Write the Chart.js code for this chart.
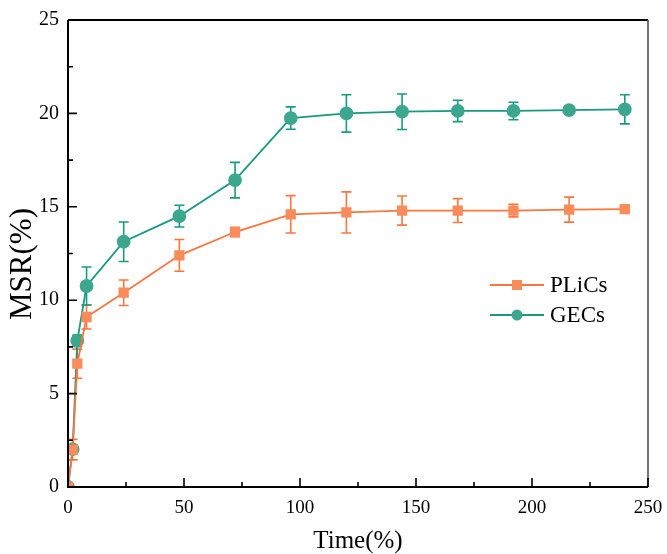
<!DOCTYPE html>
<html>
<head>
<meta charset="utf-8">
<script src="https://cdn.jsdelivr.net/npm/chart.js@4.4.1/dist/chart.umd.min.js"></script>
<style>
  html, body { margin: 0; padding: 0; background: #fff; }
  #wrap { width: 667px; height: 554px; }
</style>
</head>
<body>
<div id="wrap"><canvas id="doThi" width="667" height="554"></canvas></div>
<script>
// du lieu doc tu hinh
var thoiGian = [0, 2, 4, 8, 24, 48, 72, 96, 120, 144, 168, 192, 216, 240];
var plics = [0, 2.0, 6.6, 9.1, 10.4, 12.4, 13.65, 14.6, 14.7, 14.8, 14.8, 14.8, 14.85, 14.88];
var plicsErr = [0, 0.55, 0.78, 0.64, 0.68, 0.85, 0.25, 1.0, 1.1, 0.78, 0.64, 0.34, 0.67, 0.1];
var gecs = [0, 2.03, 7.83, 10.76, 13.13, 14.5, 16.43, 19.75, 20.0, 20.09, 20.13, 20.13, 20.18, 20.22];
var gecsErr = [0, 0.1, 0.3, 1.02, 1.06, 0.58, 0.95, 0.6, 1.0, 0.95, 0.57, 0.47, 0.15, 0.78];
var xTicks = [0, 50, 100, 150, 200, 250];
var yTicks = [0, 5, 10, 15, 20, 25];

var mauCam = '#F7773F';
var mauCamNhat = '#FA8C5C';
var mauXanh = '#179A80';
var mauXanhNhat = '#3CA78F';
var font = '"Liberation Serif", "Times New Roman", serif';

function toPoints(xs, ys) {
    return xs.map(function (x, i) { return { x: x, y: ys[i] }; });
}

// ve thanh sai so
var errorBars = {
    id: 'errorBars',
    beforeDatasetsDraw: function (chart) {
        var ctx = chart.ctx;
        var yScale = chart.scales.y;
        chart.data.datasets.forEach(function (ds, di) {
            var meta = chart.getDatasetMeta(di);
            ctx.save();
            ctx.strokeStyle = ds.borderColor;
            ctx.lineWidth = 1.6;
            meta.data.forEach(function (pt, i) {
                var e = ds.errors[i];
                if (!e) return;
                var v = ds.data[i].y;
                var yT = yScale.getPixelForValue(v + e);
                var yB = yScale.getPixelForValue(v - e);
                ctx.beginPath();
                ctx.moveTo(pt.x, yT); ctx.lineTo(pt.x, yB);
                ctx.moveTo(pt.x - 5, yT); ctx.lineTo(pt.x + 5, yT);
                ctx.moveTo(pt.x - 5, yB); ctx.lineTo(pt.x + 5, yB);
                ctx.stroke();
            });
            ctx.restore();
        });
    }
};

// khung, vach chia vao trong, chu thich, tieu de truc y
var khung = {
    id: 'khung',
    afterDraw: function (chart) {
        var ctx = chart.ctx;
        var a = chart.chartArea;
        var xs = chart.scales.x, ys = chart.scales.y;
        ctx.save();
        ctx.strokeStyle = '#000';
        ctx.lineWidth = 2;
        ctx.beginPath();
        ctx.moveTo(a.left, a.top); ctx.lineTo(a.right, a.top);
        ctx.stroke();
        ctx.strokeStyle = '#444';
        ctx.lineWidth = 1.5;
        ctx.beginPath();
        ctx.moveTo(a.right, a.top); ctx.lineTo(a.right, a.bottom);
        ctx.stroke();
        ctx.strokeStyle = '#000';
        ctx.lineWidth = 2;
        ctx.beginPath();
        ctx.moveTo(a.left, a.top); ctx.lineTo(a.left, a.bottom); ctx.lineTo(a.right, a.bottom);
        ctx.stroke();
        ctx.lineWidth = 1.6;
        ctx.beginPath();
        for (var v = 0; v <= 250; v += 25) {
            var px = xs.getPixelForValue(v);
            var len = (v % 50 === 0) ? 9 : 5;
            ctx.moveTo(px, a.bottom); ctx.lineTo(px, a.bottom - len);
        }
        for (var w = 0; w <= 25; w += 2.5) {
            var py = ys.getPixelForValue(w);
            var l2 = (w % 5 === 0) ? 9 : 5;
            ctx.moveTo(a.left, py); ctx.lineTo(a.left + l2, py);
        }
        ctx.stroke();

        // tieu de truc y
        ctx.save();
        ctx.translate(23, 264);
        ctx.rotate(-Math.PI / 2);
        ctx.fillStyle = '#000';
        ctx.font = '31px ' + font;
        ctx.textAlign = 'center';
        ctx.textBaseline = 'middle';
        ctx.fillText('MSR(%)', 0, 0);
        ctx.restore();

        // chu thich
        var items = [
            { ds: chart.data.datasets[0], y: 285 },
            { ds: chart.data.datasets[1], y: 315 }
        ];
        items.forEach(function (it) {
            ctx.strokeStyle = it.ds.borderColor;
            ctx.lineWidth = 1.8;
            ctx.beginPath();
            ctx.moveTo(490, it.y); ctx.lineTo(544, it.y);
            ctx.stroke();
            ctx.fillStyle = it.ds.pointBackgroundColor;
            if (it.ds.pointStyle === 'rect') {
                ctx.fillRect(512, it.y - 5, 10, 10);
            } else {
                ctx.beginPath();
                ctx.arc(517, it.y, 5.5, 0, Math.PI * 2);
                ctx.fill();
            }
            ctx.fillStyle = '#000';
            ctx.font = '23px ' + font;
            ctx.textBaseline = 'middle';
            ctx.fillText(it.ds.label, 550, it.y + 1);
        });
        ctx.restore();
    }
};

var ctx = document.getElementById('doThi').getContext('2d');
var myChart = new Chart(ctx, {
    type: 'line',
    data: {
        datasets: [{
            label: 'PLiCs',
            data: toPoints(thoiGian, plics),
            errors: plicsErr,
            borderColor: mauCam,
            backgroundColor: mauCamNhat,
            pointBackgroundColor: mauCamNhat,
            pointBorderColor: mauCamNhat,
            pointStyle: 'rect',
            pointRadius: 6,
            borderWidth: 1.8,
            tension: 0
        }, {
            label: 'GECs',
            data: toPoints(thoiGian, gecs),
            errors: gecsErr,
            borderColor: mauXanh,
            backgroundColor: mauXanhNhat,
            pointBackgroundColor: mauXanhNhat,
            pointBorderColor: mauXanhNhat,
            pointStyle: 'circle',
            pointRadius: 6,
            borderWidth: 1.8,
            tension: 0
        }]
    },
    options: {
        responsive: false,
        animation: false,
        layout: { padding: { left: 0, right: 19, top: 20, bottom: 0 } },
        plugins: { legend: { display: false }, tooltip: { enabled: false } },
        scales: {
            x: {
                type: 'linear',
                min: 0, max: 250,
                afterBuildTicks: function (s) { s.ticks = xTicks.map(function (v) { return { value: v }; }); },
                afterFit: function (s) { s.height = 67; s.paddingLeft = 0; s.paddingRight = 0; },
                grid: { display: false, drawTicks: false },
                border: { display: false },
                ticks: { color: '#000', padding: 10, font: { family: font, size: 19 } },
                title: { display: true, text: 'Time(%)', color: '#000', padding: { top: 2, bottom: -2 }, font: { family: font, size: 25 } }
            },
            y: {
                type: 'linear',
                min: 0, max: 25,
                afterBuildTicks: function (s) { s.ticks = yTicks.map(function (v) { return { value: v }; }); },
                afterFit: function (s) { s.width = 68; s.paddingTop = 0; s.paddingBottom = 0; },
                grid: { display: false, drawTicks: false },
                border: { display: false },
                ticks: { color: '#000', padding: 9, font: { family: font, size: 20 } },
                title: { display: false }
            }
        }
    },
    plugins: [errorBars, khung]
});
</script>
</body>
</html>
